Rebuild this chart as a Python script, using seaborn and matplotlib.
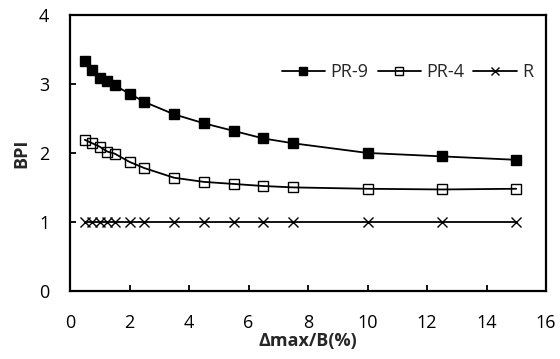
import matplotlib
matplotlib.use("Agg")
import matplotlib.pyplot as plt
import seaborn as sns
import pandas as pd

x_vals = [0.5, 0.75, 1.0, 1.25, 1.5, 2.0, 2.5, 3.5, 4.5, 5.5, 6.5, 7.5, 10.0, 12.5, 15.0]
pr9 = [3.34, 3.20, 3.08, 3.04, 2.98, 2.86, 2.74, 2.56, 2.43, 2.32, 2.21, 2.14, 2.00, 1.95, 1.90]
pr4 = [2.19, 2.14, 2.09, 2.02, 1.99, 1.87, 1.78, 1.64, 1.58, 1.55, 1.52, 1.50, 1.48, 1.47, 1.48]
r_vals = [1.0] * 15
series_names = ["PR-9", "PR-4", "R"]
x_ticks = [0, 2, 4, 6, 8, 10, 12, 14, 16]
y_ticks = [0, 1, 2, 3, 4]

sns.set_style("ticks")
plt.rcParams["font.family"] = ["Open Sans", "DejaVu Sans"]

fig = plt.figure(figsize=(5.6, 3.59), dpi=100)
ax = fig.add_axes([0.125, 0.19, 0.85, 0.768])

df = pd.DataFrame({"x": x_vals, "PR-9": pr9, "PR-4": pr4, "R": r_vals})

styles = {
    "PR-9": dict(marker="s", markersize=7.5, markerfacecolor="black", markeredgecolor="black", markeredgewidth=1.0),
    "PR-4": dict(marker="s", markersize=7.5, markerfacecolor="none", markeredgecolor="black", markeredgewidth=1.0),
    "R": dict(marker="x", markersize=7.5, markeredgecolor="black", markeredgewidth=1.0),
}
for name in series_names:
    sns.lineplot(data=df, x="x", y=name, ax=ax, color="black", linewidth=1.3,
                 label=name, **styles[name])

ax.set_xlim(0, 16)
ax.set_ylim(0, 4)
ax.set_xticks(x_ticks)
ax.set_yticks(y_ticks)
ax.tick_params(axis="both", direction="in", length=4, width=1.3, labelsize=13, colors="black")
ax.tick_params(axis="x", pad=17)
ax.tick_params(axis="y", pad=15)
for s in ax.spines.values():
    s.set_visible(True)
    s.set_linewidth(1.6)
    s.set_color("black")

ax.set_xlabel("Δmax/B(%)", fontsize=13, fontweight="bold", labelpad=0)
ax.set_ylabel("BPI", fontsize=13, fontweight="bold", labelpad=6)

leg = ax.legend(loc="center right", bbox_to_anchor=(1.0, 0.793), ncol=3, frameon=False,
                fontsize=13, handlelength=2.4, handletextpad=0.3, columnspacing=0.5,
                borderaxespad=0.3, markerscale=0.7)

fig.savefig("out.png", dpi=100)
